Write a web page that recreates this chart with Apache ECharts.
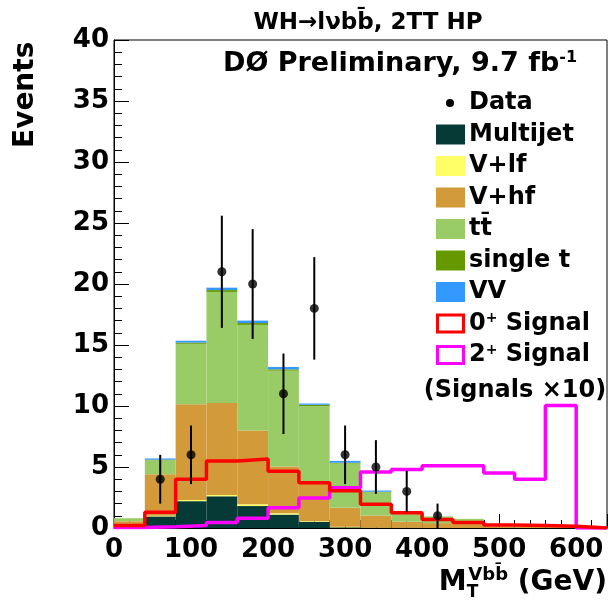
<!DOCTYPE html>
<html>
<head>
<meta charset="utf-8">
<script src="https://cdn.jsdelivr.net/npm/echarts@6/dist/echarts.min.js"></script>
<style>
  html, body { margin: 0; padding: 0; background: #fff; }
  #main { width: 608px; height: 606px; }
</style>
</head>
<body>
<div id="main"></div>
<script>
// bins of 40 GeV from 0 to 640
const binWidth = 40;
const binCount = 16;
const xTicks = [0, 100, 200, 300, 400, 500, 600];
const yTicks = [0, 5, 10, 15, 20, 25, 30, 35, 40];

// stacked backgrounds (events per bin)
const multijet = [0.05, 0.95, 2.2, 2.6, 1.8, 1.1, 0.5, 0.05, 0, 0, 0, 0, 0, 0, 0, 0];
const vlf      = [0, 0.05, 0.1, 0.1, 0.15, 0.1, 0.05, 0.05, 0.02, 0.02, 0, 0, 0, 0, 0, 0];
const vhf      = [0.5, 3.4, 7.85, 7.55, 6.05, 3.85, 3.25, 1.55, 1.0, 0.5, 0.4, 0.35, 0.12, 0.1, 0.08, 0];
const ttbar    = [0.25, 1.15, 4.95, 9.1, 8.65, 7.85, 6.2, 3.65, 1.9, 0.75, 0.55, 0.4, 0.05, 0.02, 0, 0];
const singleT  = [0, 0.05, 0.1, 0.15, 0.15, 0.1, 0.1, 0.05, 0.05, 0.03, 0, 0, 0, 0, 0, 0];
const diboson  = [0, 0.1, 0.15, 0.2, 0.2, 0.2, 0.1, 0.15, 0.1, 0.02, 0, 0, 0, 0, 0, 0];

// signals (x10)
const signal0 = [0.2, 1.3, 4.0, 5.5, 5.65, 4.65, 3.7, 3.05, 1.95, 1.25, 0.7, 0.45, 0.25, 0.2, 0.15, 0];
const signal2 = [0.05, 0.1, 0.2, 0.45, 0.8, 1.65, 2.45, 3.3, 4.6, 4.8, 5.1, 5.1, 4.5, 4.0, 10.05, 0];

// data
const dataX   = [60, 100, 140, 180, 220, 260, 300, 340, 380, 420];
const dataY   = [4, 6, 21, 20, 11, 18, 6, 5, 3, 1];
const dataErr = [2, 2.4, 4.6, 4.5, 3.3, 4.2, 2.4, 2.2, 1.7, 1];

const FONT = 'DejaVu Sans';
const colors = {
  multijet: '#053a37',
  vlf: '#ffff66',
  vhf: '#d39a3a',
  ttbar: '#99cc66',
  singleT: '#669900',
  diboson: '#3399ff',
  sig0: '#ff0000',
  sig2: '#ff00ff'
};

var myChart = echarts.init(document.getElementById('main'));

const binLabels = [];
for (let i = 0; i < binCount; i++) binLabels.push(String(i * binWidth));

function stepData(arr) {
  const pts = arr.map((v, i) => [i * binWidth, v]);
  pts.push([binCount * binWidth, arr[arr.length - 1]]);
  return pts;
}

function bgSeries(name, arr, color) {
  return {
    name: name,
    type: 'bar',
    xAxisIndex: 1,
    stack: 'bg',
    barWidth: '100%',
    barCategoryGap: '0%',
    data: arr,
    itemStyle: { color: color },
    silent: true,
    z: 2
  };
}

// legend drawn with graphic elements (rows like the ROOT TLegend)
const legendRows = [
  { label: 'Data', kind: 'dot' },
  { label: 'Multijet', kind: 'fill', color: colors.multijet },
  { label: 'V+lf', kind: 'fill', color: colors.vlf },
  { label: 'V+hf', kind: 'fill', color: colors.vhf },
  { label: 'tt\u0304', kind: 'fill', color: colors.ttbar },
  { label: 'single t', kind: 'fill', color: colors.singleT },
  { label: 'VV', kind: 'fill', color: colors.diboson },
  { label: '{b|0}{s|+}{b| Signal}', kind: 'line', color: colors.sig0 },
  { label: '{b|2}{s|+}{b| Signal}', kind: 'line', color: colors.sig2 }
];
const legendTop = 103;
const legendStep = 31.5;
const graphics = [];
legendRows.forEach((r, i) => {
  const cy = legendTop + i * legendStep;
  if (r.kind === 'dot') {
    graphics.push({ type: 'circle', shape: { cx: 450, cy: cy, r: 4 }, style: { fill: '#000' } });
  } else if (r.kind === 'fill') {
    graphics.push({ type: 'rect', shape: { x: 436, y: cy - 10, width: 29, height: 20 }, style: { fill: r.color } });
  } else {
    graphics.push({ type: 'rect', shape: { x: 437.5, y: cy - 8.5, width: 26, height: 17 }, style: { fill: 'none', stroke: r.color, lineWidth: 3 } });
  }
  graphics.push({
    type: 'text', x: 469, y: cy,
    style: {
      text: r.label,
      font: 'bold 24px "' + FONT + '"',
      fill: '#000',
      verticalAlign: 'middle',
      rich: {
        b: { font: 'bold 24px "' + FONT + '"', fill: '#000' },
        s: { font: 'bold 14px "' + FONT + '"', fill: '#000', verticalAlign: 'top', padding: [0, 0, 10, 0] }
      }
    }
  });
});
graphics.push({
  type: 'text', x: 515, y: 391,
  style: { text: '(Signals \u00d710)', font: 'bold 24px "' + FONT + '"', fill: '#000', align: 'center', verticalAlign: 'middle' }
});
// header texts
graphics.push({
  type: 'text', x: 368, y: 23,
  style: { text: 'WH\u2192l\u03bdbb\u0304, 2TT HP', font: 'bold 23px "' + FONT + '"', fill: '#000', align: 'center', verticalAlign: 'middle' }
});
graphics.push({
  type: 'text', x: 400, y: 64,
  style: {
    text: '{b|D\u00d8 Preliminary, 9.7 fb}{s|-1}',
    align: 'center', verticalAlign: 'middle',
    rich: {
      b: { font: 'bold 27px "' + FONT + '"', fill: '#000' },
      s: { font: 'bold 16px "' + FONT + '"', fill: '#000', padding: [0, 0, 13, 0] }
    }
  }
});
// y title
graphics.push({
  type: 'text', x: 26, y: 148, rotation: Math.PI / 2,
  style: { text: 'Events', font: 'bold 28px "' + FONT + '"', fill: '#000', align: 'left', verticalAlign: 'middle' }
});
// x title
graphics.push({
  type: 'text', x: 607, y: 583,
  style: {
    text: '{b|M}{t|T}{v|Vbb\u0304}{b| (GeV)}',
    align: 'right', verticalAlign: 'middle',
    rich: {
      b: { font: 'bold 28px "' + FONT + '"', fill: '#000' },
      t: { font: 'bold 17px "' + FONT + '"', fill: '#000', padding: [20, 0, 0, 0] },
      v: { font: 'bold 18px "' + FONT + '"', fill: '#000', padding: [0, 0, 16, -10] }
    }
  }
});

const axisLabelStyle = { color: '#000', fontFamily: FONT, fontWeight: 'bold', fontSize: 26 };

myChart.setOption({
  backgroundColor: '#fff',
  animation: false,
  grid: {
    left: 114, top: 40, right: 1, bottom: 78,
    show: true, borderColor: '#000', borderWidth: 1, backgroundColor: '#fff'
  },
  xAxis: [
    {
      type: 'value',
      min: 0, max: binCount * binWidth, interval: 100,
      axisLine: { show: true, onZero: false, lineStyle: { color: '#000', width: 1 } },
      axisTick: { show: true, inside: true, length: 14, lineStyle: { color: '#000' } },
      minorTick: { show: true, splitNumber: 5, length: 8, lineStyle: { color: '#000' } },
      splitLine: { show: false },
      axisLabel: Object.assign({ margin: 9, showMaxLabel: false,
        formatter: v => (xTicks.indexOf(v) >= 0 ? String(v) : '') }, axisLabelStyle)
    },
    {
      type: 'category',
      data: binLabels,
      show: false,
      boundaryGap: true
    }
  ],
  yAxis: {
    type: 'value',
    min: 0, max: 40, interval: 5,
    axisLine: { show: true, lineStyle: { color: '#000', width: 1 } },
    axisTick: { show: true, inside: true, length: 15, lineStyle: { color: '#000' } },
    minorTick: { show: true, splitNumber: 5, length: 8, lineStyle: { color: '#000' } },
    splitLine: { show: false },
    axisLabel: Object.assign({ margin: 5,
      formatter: v => (yTicks.indexOf(v) >= 0 ? String(v) : '') }, axisLabelStyle)
  },
  graphic: graphics,
  series: [
    bgSeries('Multijet', multijet, colors.multijet),
    bgSeries('V+lf', vlf, colors.vlf),
    bgSeries('V+hf', vhf, colors.vhf),
    bgSeries('tt', ttbar, colors.ttbar),
    bgSeries('single t', singleT, colors.singleT),
    bgSeries('VV', diboson, colors.diboson),
    {
      name: '0+ Signal',
      type: 'line',
      step: 'end',
      xAxisIndex: 0,
      data: stepData(signal0),
      symbol: 'none',
      lineStyle: { color: colors.sig0, width: 3.5 },
      z: 5
    },
    {
      name: '2+ Signal',
      type: 'line',
      step: 'end',
      xAxisIndex: 0,
      data: stepData(signal2),
      symbol: 'none',
      lineStyle: { color: colors.sig2, width: 3.5 },
      z: 4
    },
    {
      name: 'Data errors',
      type: 'custom',
      xAxisIndex: 0,
      data: dataX.map((x, i) => [x, dataY[i], dataErr[i]]),
      renderItem: function (params, api) {
        const lo = api.coord([api.value(0), api.value(1) - api.value(2)]);
        const hi = api.coord([api.value(0), api.value(1) + api.value(2)]);
        return {
          type: 'line',
          shape: { x1: lo[0], y1: lo[1], x2: hi[0], y2: hi[1] },
          style: { stroke: '#000', lineWidth: 2 }
        };
      },
      z: 6
    },
    {
      name: 'Data',
      type: 'scatter',
      xAxisIndex: 0,
      data: dataX.map((x, i) => [x, dataY[i]]),
      symbol: 'circle',
      symbolSize: 9,
      itemStyle: { color: '#000' },
      z: 7
    }
  ]
});
</script>
</body>
</html>
